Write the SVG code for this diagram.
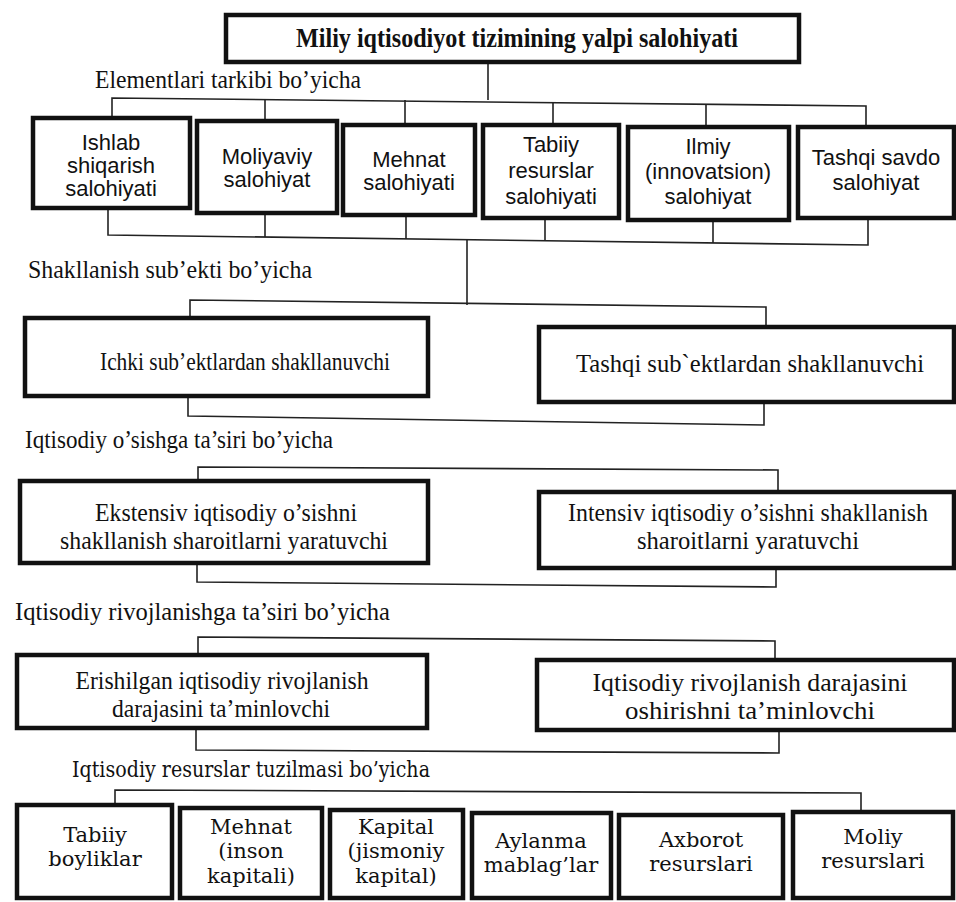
<svg xmlns="http://www.w3.org/2000/svg" width="956" height="902" viewBox="0 0 956 902">
<style>
.box{fill:#fff;stroke:#111;stroke-width:4.5}
.con{fill:none;stroke:#222;stroke-width:1.6}
.t{font-family:"Liberation Serif",serif;font-size:25px;fill:#111;text-anchor:middle}
.lab{font-family:"Liberation Serif",serif;font-size:25px;fill:#111}
.s{font-family:"Liberation Sans",sans-serif;font-size:22px;fill:#111;text-anchor:middle}
.d{font-family:"DejaVu Serif",serif;font-size:21px;fill:#111;text-anchor:middle}
</style>
<rect width="956" height="902" fill="#fff"/>
<g id="connectors">
<path class="con" d="M488,62 V100"/>
<path class="con" d="M112,118 V98 L866,106 V127"/>
<path class="con" d="M265,121 V99 M405,125 V100 M553,125 V102 M706,127 V104"/>
<path class="con" d="M108,208 V235 L868,245 V218"/>
<path class="con" d="M265,213 V237 M406,215 V239 M545,218 V241 M713,220 V243"/>
<path class="con" d="M467,240 V305"/>
<path class="con" d="M190,318 V300 L766,307 V327"/>
<path class="con" d="M188,396 V416 L764,425 V402"/>
<path class="con" d="M198,481 V467 L778,470 V492"/>
<path class="con" d="M197,563 V582 L776,587 V568"/>
<path class="con" d="M198,655 V637 L775,641 V660"/>
<path class="con" d="M196,728 V750 L779,753 V730"/>
<path class="con" d="M115,805 V790 L861,793 V812"/>
</g>
<g id="root">
<rect class="box" x="226" y="15" width="573" height="47"/>
<text x="517" y="47" font-family="Liberation Serif, serif" font-weight="bold" font-size="27" text-anchor="middle" textLength="442" lengthAdjust="spacingAndGlyphs" fill="#111">Miliy iqtisodiyot tizimining yalpi salohiyati</text>
</g>
<g id="labels">
<text class="lab" x="95" y="88" textLength="266" lengthAdjust="spacingAndGlyphs">Elementlari tarkibi bo’yicha</text>
<text class="lab" x="28" y="278" textLength="284" lengthAdjust="spacingAndGlyphs">Shakllanish sub’ekti bo’yicha</text>
<text class="lab" x="25" y="448" textLength="308" lengthAdjust="spacingAndGlyphs">Iqtisodiy o’sishga ta’siri bo’yicha</text>
<text class="lab" x="15" y="620" textLength="375" lengthAdjust="spacingAndGlyphs">Iqtisodiy rivojlanishga ta’siri bo’yicha</text>
<text x="72" y="777" font-family="DejaVu Serif, serif" font-size="22" fill="#111" textLength="358" lengthAdjust="spacingAndGlyphs">Iqtisodiy resurslar tuzilmasi bo’yicha</text>
</g>
<g id="n1"><rect class="box" x="33" y="118" width="157" height="90"/>
<text class="s" x="111" y="150">Ishlab</text><text class="s" x="111" y="173">shiqarish</text><text class="s" x="111" y="196">salohiyati</text></g>
<g id="n2"><rect class="box" x="197" y="121" width="140" height="92"/>
<text class="s" x="267" y="164">Moliyaviy</text><text class="s" x="267" y="187">salohiyat</text></g>
<g id="n3"><rect class="box" x="343" y="125" width="132" height="90"/>
<text class="s" x="409" y="167">Mehnat</text><text class="s" x="409" y="190">salohiyati</text></g>
<g id="n4"><rect class="box" x="483" y="125" width="136" height="93"/>
<text class="s" x="551" y="152">Tabiiy</text><text class="s" x="551" y="178">resurslar</text><text class="s" x="551" y="204">salohiyati</text></g>
<g id="n5"><rect class="box" x="628" y="127" width="161" height="93"/>
<text class="s" x="708" y="154">Ilmiy</text><text class="s" x="708" y="179">(innovatsion)</text><text class="s" x="708" y="204">salohiyat</text></g>
<g id="n6"><rect class="box" x="798" y="127" width="156" height="91"/>
<text class="s" x="876" y="165">Tashqi savdo</text><text class="s" x="876" y="190">salohiyat</text></g>
<g id="n7"><rect class="box" x="25" y="318" width="403" height="78"/>
<text class="t" x="245" y="370" textLength="290" lengthAdjust="spacingAndGlyphs">Ichki sub’ektlardan shakllanuvchi</text></g>
<g id="n8"><rect class="box" x="539" y="327" width="415" height="75"/>
<text class="t" x="750" y="372" textLength="348" lengthAdjust="spacingAndGlyphs">Tashqi sub`ektlardan shakllanuvchi</text></g>
<g id="n9"><rect class="box" x="20" y="481" width="408" height="82"/>
<text class="t" x="226" y="521" textLength="262" lengthAdjust="spacingAndGlyphs">Ekstensiv iqtisodiy o’sishni</text>
<text class="t" x="224" y="549" textLength="328" lengthAdjust="spacingAndGlyphs">shakllanish sharoitlarni yaratuvchi</text></g>
<g id="n10"><rect class="box" x="539" y="492" width="415" height="76"/>
<text class="t" x="748" y="521" textLength="360" lengthAdjust="spacingAndGlyphs">Intensiv iqtisodiy o’sishni shakllanish</text>
<text class="t" x="748" y="549" textLength="222" lengthAdjust="spacingAndGlyphs">sharoitlarni yaratuvchi</text></g>
<g id="n11"><rect class="box" x="17" y="655" width="410" height="73"/>
<text class="t" x="222" y="689" textLength="293" lengthAdjust="spacingAndGlyphs">Erishilgan iqtisodiy rivojlanish</text>
<text class="t" x="221" y="717" textLength="218" lengthAdjust="spacingAndGlyphs">darajasini ta’minlovchi</text></g>
<g id="n12"><rect class="box" x="537" y="660" width="417" height="70"/>
<text class="t" x="750" y="691" textLength="315" lengthAdjust="spacingAndGlyphs">Iqtisodiy rivojlanish darajasini</text>
<text class="t" x="750" y="719" textLength="250" lengthAdjust="spacingAndGlyphs">oshirishni ta’minlovchi</text></g>
<g id="n13"><rect class="box" x="17" y="805" width="155" height="93"/>
<text class="d" x="95" y="842">Tabiiy</text><text class="d" x="95" y="866">boyliklar</text></g>
<g id="n14"><rect class="box" x="180" y="808" width="142" height="90"/>
<text class="d" x="251" y="834">Mehnat</text><text class="d" x="251" y="858">(inson</text><text class="d" x="251" y="883">kapitali)</text></g>
<g id="n15"><rect class="box" x="330" y="810" width="133" height="88"/>
<text class="d" x="396" y="834">Kapital</text><text class="d" x="396" y="858">(jismoniy</text><text class="d" x="396" y="883">kapital)</text></g>
<g id="n16"><rect class="box" x="472" y="813" width="139" height="85"/>
<text class="d" x="541" y="848">Aylanma</text><text class="d" x="541" y="872">mablag’lar</text></g>
<g id="n17"><rect class="box" x="619" y="815" width="164" height="83"/>
<text class="d" x="701" y="847">Axborot</text><text class="d" x="701" y="871">resurslari</text></g>
<g id="n18"><rect class="box" x="793" y="812" width="160" height="86"/>
<text class="d" x="873" y="844">Moliy</text><text class="d" x="873" y="868">resurslari</text></g>
</svg>
